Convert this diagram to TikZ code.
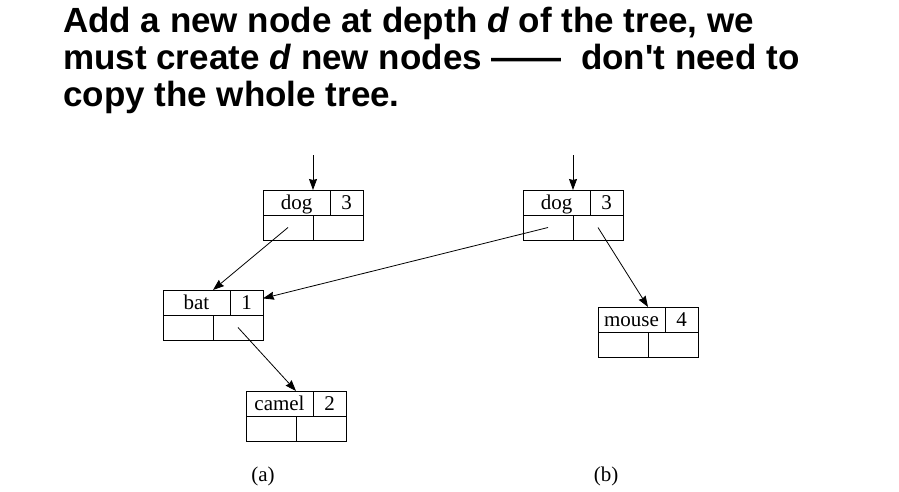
\documentclass[tikz,border=0pt]{standalone}
\usepackage{fontspec}
\setmainfont{Liberation Serif}
\newfontfamily\titlefont{Liberation Sans}
\usepackage{tikz}
\usetikzlibrary{arrows.meta, positioning}
\tikzset{
    cell/.style={
        rectangle, draw=black, line width=0.8pt, minimum height=25pt,
        inner sep=0pt, outer sep=0pt, text height=16pt, text depth=2pt,
        font=\fontsize{21}{21}\selectfont
    },
    keycell/.style={cell, minimum width=67pt},
    numcell/.style={cell, minimum width=33pt},
    ptrcell/.style={cell, minimum width=50pt},
    arrow/.style={line width=0.8pt, -{Stealth[length=11pt, width=8pt, inset=1pt]}},
    caption/.style={font=\fontsize{21}{21}\selectfont}
}
\begin{document}
\begin{tikzpicture}[x=1pt, y=-1pt]
    \useasboundingbox (0,0) rectangle (899,492);
    \node (title) [anchor=north west, align=left, inner sep=0pt, font=\titlefont\bfseries\fontsize{35}{37}\selectfont] at (63,6.5)
        {Add a new node at depth \textit{d} of the tree, we\\ must create \textit{d} new nodes ——\ \ don't need to\\ copy the whole tree.};
    \node (dogAk) [keycell, anchor=north west] at (263,190) {dog};
    \node (dogAn) [numcell, right=0pt of dogAk] {3};
    \node (dogAl) [ptrcell, below right=0pt and 0pt of dogAk.south west] {};
    \node (dogAr) [ptrcell, right=0pt of dogAl] {};
    \node (batAk) [keycell, anchor=north west] at (163,290) {bat};
    \node (batAn) [numcell, right=0pt of batAk] {1};
    \node (batAl) [ptrcell, below right=0pt and 0pt of batAk.south west] {};
    \node (batAr) [ptrcell, right=0pt of batAl] {};
    \node (camelAk) [keycell, anchor=north west] at (246,391) {camel};
    \node (camelAn) [numcell, right=0pt of camelAk] {2};
    \node (camelAl) [ptrcell, below right=0pt and 0pt of camelAk.south west] {};
    \node (camelAr) [ptrcell, right=0pt of camelAl] {};
    \node (dogBk) [keycell, anchor=north west] at (523,190) {dog};
    \node (dogBn) [numcell, right=0pt of dogBk] {3};
    \node (dogBl) [ptrcell, below right=0pt and 0pt of dogBk.south west] {};
    \node (dogBr) [ptrcell, right=0pt of dogBl] {};
    \node (mouseBk) [keycell, anchor=north west] at (598,307) {mouse};
    \node (mouseBn) [numcell, right=0pt of mouseBk] {4};
    \node (mouseBl) [ptrcell, below right=0pt and 0pt of mouseBk.south west] {};
    \node (mouseBr) [ptrcell, right=0pt of mouseBl] {};
    \node (capA) [caption] at (263,476) {(a)};
    \node (capB) [caption] at (606,476) {(b)};
    \coordinate (rootA) at (313,155);
    \coordinate (rootB) at (573,155);
    \draw [arrow] (rootA) -- (rootA |- dogAk.north);
    \draw [arrow] (rootB) -- (rootB |- dogBk.north);
    \draw [arrow] (dogAl.center) -- (batAk.north -| batAl.east);
    \draw [arrow] (batAr.center) -- (camelAk.north -| camelAl.east);
    \draw [arrow] (dogBl.center) -- (batAn);
    \draw [arrow] (dogBr.center) -- (mouseBk.north -| mouseBl.east);
\end{tikzpicture}
\end{document}
